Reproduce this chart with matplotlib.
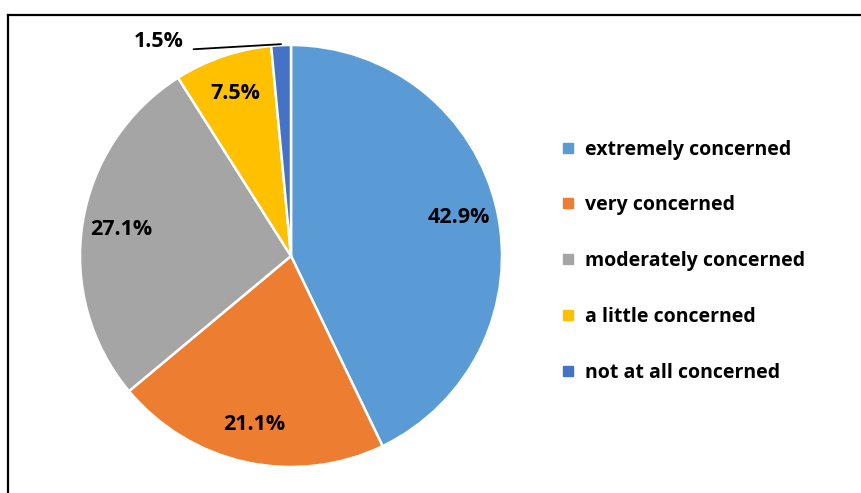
import matplotlib.pyplot as plt
import numpy as np
from matplotlib.lines import Line2D

categories = ["extremely concerned", "very concerned", "moderately concerned",
              "a little concerned", "not at all concerned"]
values = [42.9, 21.1, 27.1, 7.5, 1.5]
colors = ["#5B9BD5", "#ED7D31", "#A5A5A5", "#FFC000", "#4472C4"]

plt.rcParams['font.family'] = ['Open Sans', 'DejaVu Sans']

W, H = 861, 493
fig = plt.figure(figsize=(W / 100, H / 100), dpi=100)

# pie axes: center (291, 256), radius 211 px
cx, cy, r = 291, 256, 211
ax = fig.add_axes([(cx - r) / W, (H - cy - r) / H, 2 * r / W, 2 * r / H])
wedges, texts, autotexts = ax.pie(
    values, colors=colors, startangle=90, counterclock=False,
    autopct=lambda p: f"{p:.1f}%", pctdistance=0.815,
    wedgeprops=dict(edgecolor="white", linewidth=1.8),
    textprops=dict(fontsize=15.5, fontweight="bold", color="black"))
ax.set_xlim(-1, 1)
ax.set_ylim(-1, 1)
ax.set_aspect("equal")
ax.axis("off")

# show the labels with one decimal as in the source
for t, v in zip(autotexts, values):
    t.set_text(f"{v:.1f}%")

# small slice: label outside with a leader line
autotexts[-1].set_visible(False)
w = wedges[-1]
ang = np.deg2rad((w.theta1 + w.theta2) / 2)
ax.annotate(f"{values[-1]:.1f}%", xy=(np.cos(ang), 1.005 * np.sin(ang)),
            xytext=(-0.626, 1.017), fontsize=15.5, fontweight="bold",
            ha="center", va="center", annotation_clip=False,
            arrowprops=dict(arrowstyle="-", color="black", lw=1.3,
                            shrinkA=5, shrinkB=0, relpos=(1, 0.1)))

handles = [Line2D([], [], marker="s", linestyle="none", markersize=7,
                  markerfacecolor=c, markeredgecolor=c) for c in colors]
fig.legend(handles, categories, loc="upper left",
           bbox_to_anchor=(543 / W, 1 - 122 / H), frameon=False,
           prop=dict(size=14, weight="bold"), labelspacing=1.84,
           handlelength=0.8, handletextpad=0.45)

# outer frame (left and top edges visible)
fig.add_artist(Line2D([8 / W, 8 / W], [0, 1 - 15 / H], color="black",
                      lw=1.6, transform=fig.transFigure))
fig.add_artist(Line2D([8 / W, 1], [1 - 15 / H, 1 - 15 / H], color="black",
                      lw=1.6, transform=fig.transFigure))

plt.savefig("out.png", dpi=100)
